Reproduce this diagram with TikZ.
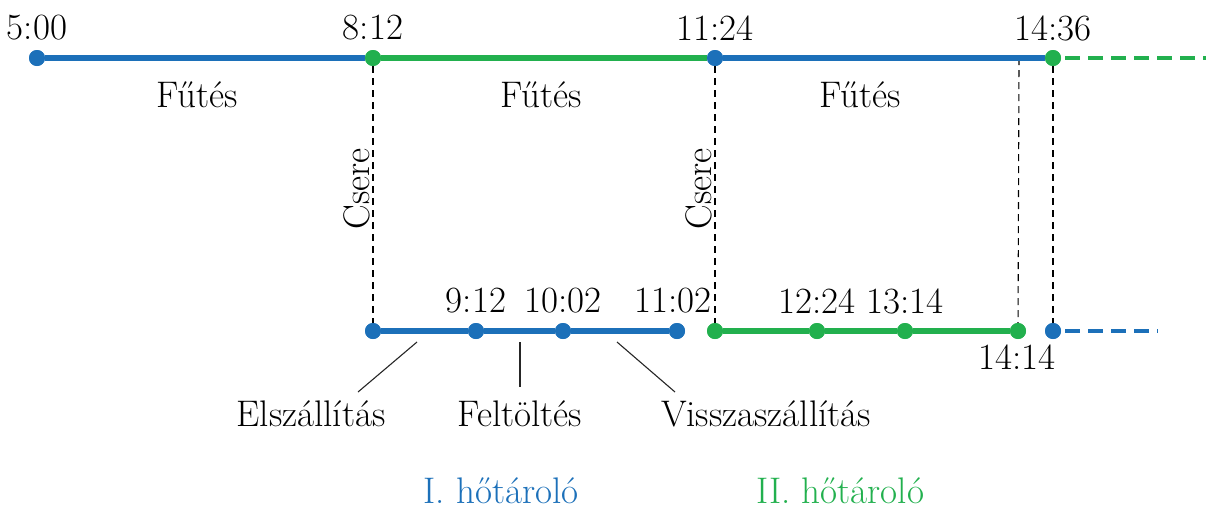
\documentclass[tikz,border=0pt]{standalone}
\definecolor{tblue}{RGB}{28,112,185}
\definecolor{tgreen}{RGB}{34,176,78}
\begin{document}
\begin{tikzpicture}[x=1pt,y=-1pt,
  txt/.style={font=\fontsize{37}{44}\selectfont, inner sep=0pt},
  dotb/.style={circle, fill=tblue, inner sep=0pt, minimum size=16pt},
  dotg/.style={circle, fill=tgreen, inner sep=0pt, minimum size=16pt},
  lineb/.style={draw=tblue, line width=6pt},
  lineg/.style={draw=tgreen, line width=6pt},
  vdash/.style={draw=black, line width=1.1pt, dash pattern=on 7pt off 5pt},
  lead/.style={draw=black!85, line width=1.1pt}]
\useasboundingbox (0,0) rectangle (1206,509);
% top dots
\node[dotb] (t500) at (37,58) {};
\node[dotg] (t812) at (373,58) {};
\node[dotb] (t1124) at (715,58) {};
\node[dotg] (t1436) at (1053,58) {};
\coordinate (tend) at (1206,58);
\coordinate (t1414) at (1019,58);
% bottom dots
\node[dotb] (b812) at (373,331) {};
\node[dotb] (b912) at (476,331) {};
\node[dotb] (b1002) at (563,331) {};
\node[dotb] (b1102) at (677,331) {};
\node[dotg] (b1124) at (715,331) {};
\node[dotg] (b1224) at (817,331) {};
\node[dotg] (b1314) at (905,331) {};
\node[dotg] (b1414) at (1018,331) {};
\node[dotb] (b1436) at (1053,331) {};
\coordinate (bend) at (1158,331);
% dashed verticals
\draw[vdash] (t812) -- (b812);
\draw[vdash] (t1124) -- (b1124);
\draw[vdash] (t1414) -- (b1414.center);
\draw[vdash] (t1436) -- (b1436);
% top line
\draw[lineb] (t500) -- (t812);
\draw[lineg] (t812) -- (t1124);
\draw[lineb] (t1124) -- (t1436);
\draw[draw=tgreen, line width=4.5pt, dash pattern=on 15pt off 8pt] (t1436.east) ++(4,0) -- (tend);
% bottom lines
\draw[lineb] (b812) -- (b912);
\draw[lineb] (b912) -- (b1002);
\draw[lineb] (b1002) -- (b1102);
\draw[lineg] (b1124) -- (b1224);
\draw[lineg] (b1224) -- (b1314);
\draw[lineg] (b1314) -- (b1414);
\draw[draw=tblue, line width=4.5pt, dash pattern=on 15pt off 8pt] (b1436.east) ++(4,0) -- (bend);
% redraw dots on top
\foreach \n in {t500,t1124,b812,b912,b1002,b1102,b1436} \fill[tblue] (\n.center) circle (8pt);
\foreach \n in {t812,t1436,b1124,b1224,b1314,b1414} \fill[tgreen] (\n.center) circle (8pt);
% top labels
\node[txt] (l500) at (37,28) {5:00};
\node[txt] (l812) at (373,28) {8:12};
\node[txt] (l1124) at (715,28) {11:24};
\node[txt] (l1436) at (1053,28) {14:36};
\node[txt] (f1) at (197,95) {Fűtés};
\node[txt] (f2) at (541,95) {Fűtés};
\node[txt] (f3) at (860,95) {Fűtés};
\node[txt, rotate=90, anchor=south] (cs1) at (370,189) {Csere};
\node[txt, rotate=90, anchor=south] (cs2) at (712,189) {Csere};
% bottom labels
\node[txt] (l912) at (476,301) {9:12};
\node[txt] (l1002) at (563,301) {10:02};
\node[txt] (l1102) at (673,301) {11:02};
\node[txt] (l1224) at (817,301) {12:24};
\node[txt] (l1314) at (905,301) {13:14};
\node[txt] (l1414) at (1017,357) {14:14};
\node[txt] (el) at (311,414) {Elszállítás};
\node[txt] (fe) at (520,414) {Feltöltés};
\node[txt] (vi) at (766,414) {Visszaszállítás};
\coordinate (e1) at (417,342);
\coordinate (e2) at (358,392);
\coordinate (g1) at (520,342);
\coordinate (g2) at (520,387);
\coordinate (v1) at (617,342);
\coordinate (v2) at (675,392);
\draw[lead] (e1) -- (e2);
\draw[lead] (g1) -- (g2);
\draw[lead] (v1) -- (v2);
\node[txt, text=tblue, anchor=base] (h1) at (501,503) {I. hőtároló};
\node[txt, text=tgreen, anchor=base] (h2) at (840,503) {II. hőtároló};
\end{tikzpicture}
\end{document}
